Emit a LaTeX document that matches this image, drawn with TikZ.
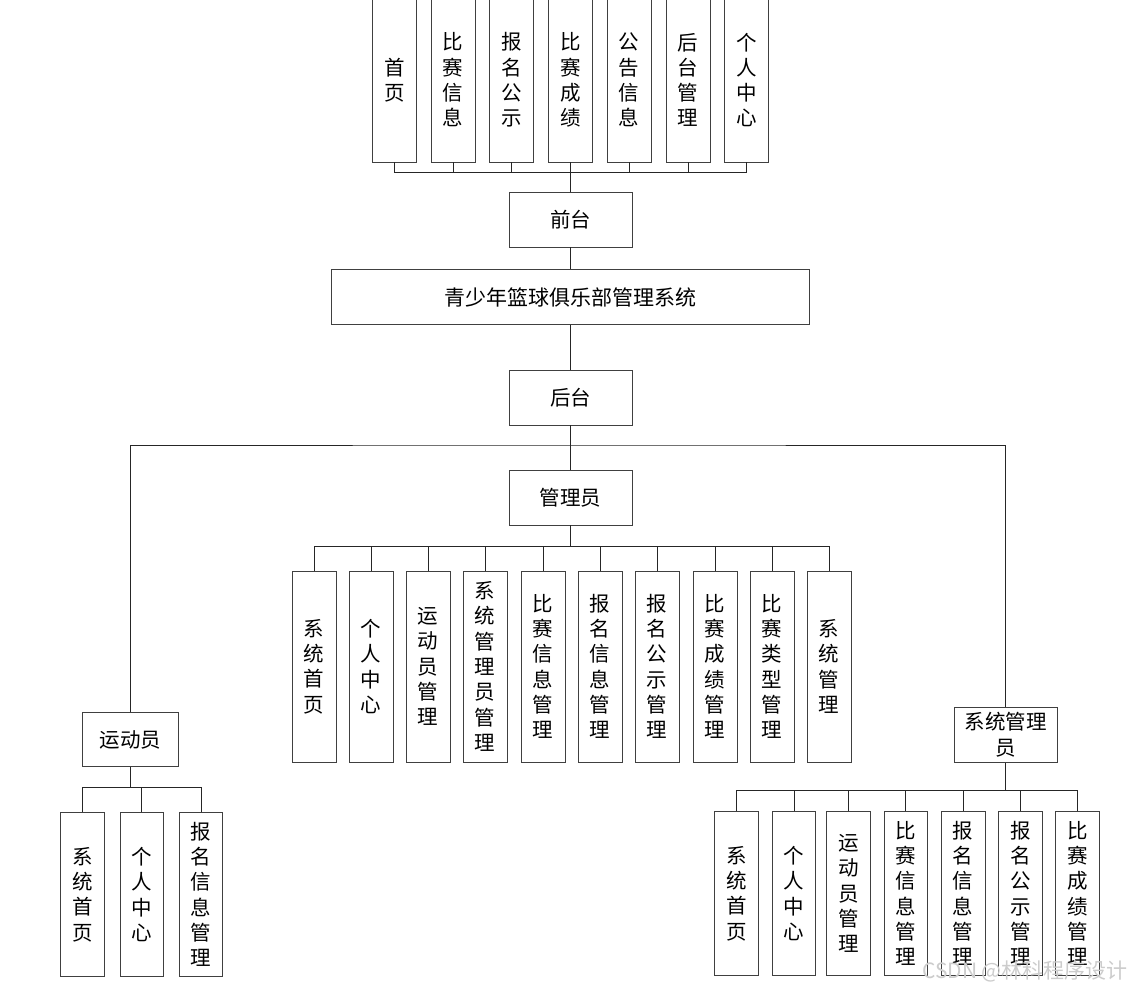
\documentclass[tikz,border=0pt]{standalone}
\usepackage{fontspec}
\newfontfamily\cjk{Noto Sans CJK SC}
\begin{document}
\begin{tikzpicture}[x=1pt,y=-1pt,
  box/.style={draw=black!75, line width=0.9pt, inner sep=0pt, align=center,
    font=\cjk\fontsize{20.5}{25.3}\selectfont, text=black},
  topbox/.style={box, minimum width=44pt, minimum height=164pt},
  hbox/.style={box, minimum width=123pt, minimum height=55pt},
  admbox/.style={box, minimum width=44pt, minimum height=191pt},
  lowbox/.style={box, minimum width=43.6pt, minimum height=164pt},
  link/.style={draw=black!85, line width=0.9pt}]
\useasboundingbox (0,0) rectangle (1133,991);
\fill[white] (0,0) rectangle (1133,991);

% top (front-end) modules
\node[topbox] (t1) at (394.5,80) {首\\页};
\node[topbox] (t2) at (453,80) {比\\赛\\信\\息};
\node[topbox] (t3) at (511.7,80) {报\\名\\公\\示};
\node[topbox] (t4) at (570.5,80) {比\\赛\\成\\绩};
\node[topbox] (t5) at (629,80) {公\\告\\信\\息};
\node[topbox] (t6) at (688,80) {后\\台\\管\\理};
\node[topbox] (t7) at (746.7,80) {个\\人\\中\\心};

\node[hbox] (qt) at (570.5,219.5) {前台};
\node[box, minimum width=477.6pt, minimum height=54.3pt, font=\cjk\fontsize{21}{25.3}\selectfont] (sys) at (570.5,297) {青少年篮球俱乐部管理系统};
\node[hbox] (ht) at (570.5,397.5) {后台};
\node[hbox] (gly) at (570.5,497.5) {管理员};
\node[box, minimum width=96.4pt, minimum height=54.4pt] (ydy) at (130.5,739.5) {运动员};
\node[box, minimum width=103.3pt, minimum height=55pt] (xt) at (1005.7,734.8) {系统管理\\员};

% admin modules
\node[admbox] (a1) at (314,666.5) {系\\统\\首\\页};
\node[admbox] (a2) at (371,666.5) {个\\人\\中\\心};
\node[admbox] (a3) at (428,666.5) {运\\动\\员\\管\\理};
\node[admbox] (a4) at (485,666.5) {系\\统\\管\\理\\员\\管\\理};
\node[admbox] (a5) at (543,666.5) {比\\赛\\信\\息\\管\\理};
\node[admbox] (a6) at (600,666.5) {报\\名\\信\\息\\管\\理};
\node[admbox] (a7) at (657,666.5) {报\\名\\公\\示\\管\\理};
\node[admbox] (a8) at (715,666.5) {比\\赛\\成\\绩\\管\\理};
\node[admbox] (a9) at (772,666.5) {比\\赛\\类\\型\\管\\理};
\node[admbox] (a10) at (829,666.5) {系\\统\\管\\理};

% athlete modules
\node[lowbox] (y1) at (82.7,894.5) {系\\统\\首\\页};
\node[lowbox] (y2) at (141.8,894.5) {个\\人\\中\\心};
\node[lowbox] (y3) at (201,894.5) {报\\名\\信\\息\\管\\理};

% system admin modules
\node[lowbox] (s1) at (736.7,893.5) {系\\统\\首\\页};
\node[lowbox] (s2) at (794,893.5) {个\\人\\中\\心};
\node[lowbox] (s3) at (848.5,893.5) {运\\动\\员\\管\\理};
\node[lowbox] (s4) at (905.8,893.5) {比\\赛\\信\\息\\管\\理};
\node[lowbox] (s5) at (963.2,893.5) {报\\名\\信\\息\\管\\理};
\node[lowbox] (s6) at (1020.5,893.5) {报\\名\\公\\示\\管\\理};
\node[lowbox] (s7) at (1077.5,893.5) {比\\赛\\成\\绩\\管\\理};

% bus coordinates
\coordinate (b1) at (570.5,172);
\coordinate (hub) at (570.5,445);
\coordinate (b2) at (570.5,546);
\coordinate (b3) at (130.5,787.5);
\coordinate (b4) at (1005.7,790.5);

% connectors
\foreach \n in {t1,t2,t3,t4,t5,t6,t7} \draw[link] (\n.south) |- (b1);
\draw[link] (b1) -- (qt.north);
\draw[link] (qt.south) -- (sys.north);
\draw[link] (sys.south) -- (ht.north);
\draw[link] (ht.south) -- (hub);
\draw[link] (ydy.north) |- (hub) -| (xt.north);
\draw[link] (hub) -- (gly.north);
\draw[link] (gly.south) -- (b2);
\foreach \n in {a1,a2,a3,a4,a5,a6,a7,a8,a9,a10} \draw[link] (\n.north) |- (b2);
\draw[link] (ydy.south) -- (b3);
\foreach \n in {y1,y2,y3} \draw[link] (\n.north) |- (b3);
\draw[link] (xt.south) -- (b4);
\foreach \n in {s1,s2,s3,s4,s5,s6,s7} \draw[link] (\n.north) |- (b4);

% watermark
\node[anchor=east, inner sep=0pt, text=black!20, font=\cjk\fontsize{21}{24}\selectfont] (wm) at (1128,971) {CSDN @林科程序设计};
\end{tikzpicture}
\end{document}
